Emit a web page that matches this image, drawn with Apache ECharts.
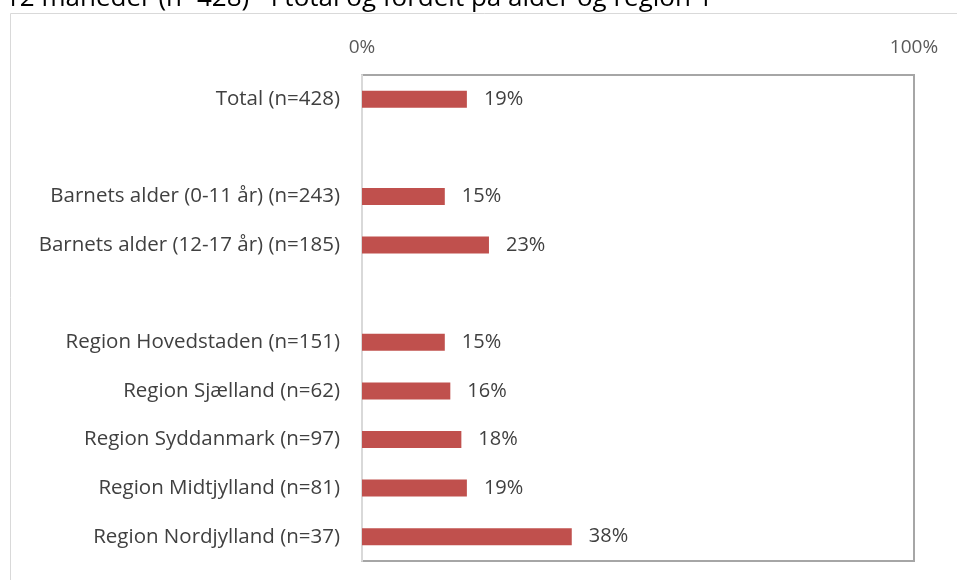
<!DOCTYPE html>
<html>
<head>
<meta charset="utf-8">
<script src="https://cdn.jsdelivr.net/npm/echarts@6/dist/echarts.min.js"></script>
<style>
  html, body { margin: 0; padding: 0; background: #fff; }
  #chart { width: 957px; height: 580px; }
</style>
</head>
<body>
<div id="chart"></div>
<script>
// rækker (tomme rækker giver mellemrum mellem grupperne)
var categories = [
  'Total (n=428)',
  '',
  'Barnets alder (0-11 år) (n=243)',
  'Barnets alder (12-17 år) (n=185)',
  ' ',
  'Region Hovedstaden (n=151)',
  'Region Sjælland (n=62)',
  'Region Syddanmark (n=97)',
  'Region Midtjylland (n=81)',
  'Region Nordjylland (n=37)'
]
var values = [0.19, null, 0.15, 0.23, null, 0.15, 0.16, 0.18, 0.19, 0.38]
var tickLabels = ['0%', '100%']

var chart = echarts.init(document.getElementById('chart'))
chart.setOption({
  animation: false,
  textStyle: { fontFamily: 'Open Sans' },
  title: {
    text: '12 måneder (n=428) - i total og fordelt på alder og region 1',
    left: 0,
    top: -19,
    textStyle: { fontSize: 26, fontWeight: 'normal', color: '#000', fontFamily: 'Open Sans' }
  },
  graphic: [{
    type: 'rect',
    shape: { x: 10.5, y: 13.5, width: 960, height: 600 },
    style: { fill: 'none', stroke: '#d9d9d9', lineWidth: 1 },
    silent: true,
    z: -1
  }],
  grid: {
    left: 362,
    right: 43,
    top: 75,
    bottom: 19,
    show: true,
    borderColor: '#a6a6a6',
    borderWidth: 2
  },
  xAxis: {
    type: 'value',
    position: 'top',
    min: 0,
    max: 1,
    interval: 1,
    axisLine: { show: false },
    axisTick: { show: false },
    splitLine: { show: false },
    axisLabel: {
      margin: 18,
      fontSize: 19,
      color: '#595959',
      formatter: function(v) {
        return tickLabels[Math.round(v)]
      }
    }
  },
  yAxis: {
    type: 'category',
    inverse: true,
    data: categories,
    axisTick: { show: false },
    axisLine: { show: true, lineStyle: { color: '#d9d9d9', width: 2 } },
    axisLabel: { margin: 22, fontSize: 20.5, color: '#404040' }
  },
  series: [{
    type: 'bar',
    data: values,
    barWidth: 17,
    itemStyle: { color: '#c0504d' },
    label: {
      show: true,
      position: 'right',
      distance: 17,
      fontSize: 20,
      color: '#404040',
      formatter: function(p) {
        return Math.round(p.value * 100) + '%'
      }
    }
  }]
})
</script>
</body>
</html>
